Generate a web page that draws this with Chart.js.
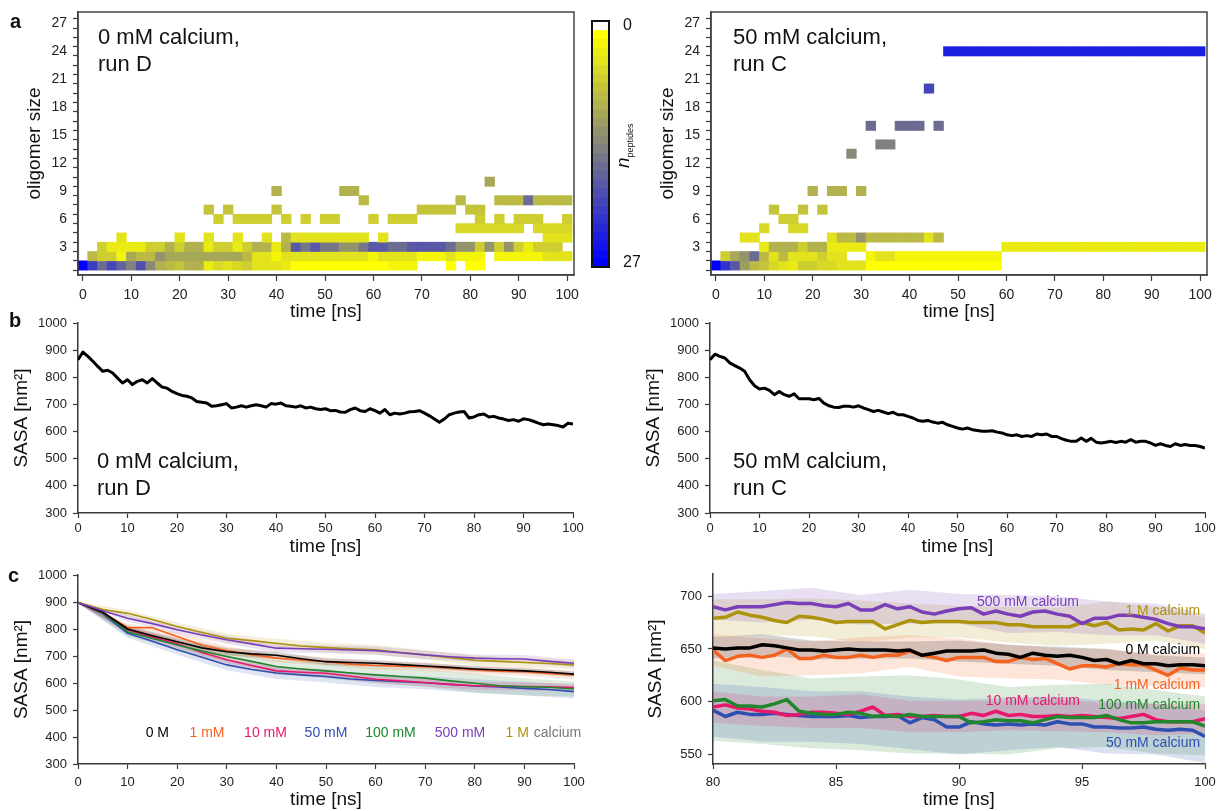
<!DOCTYPE html>
<html>
<head>
<meta charset="utf-8">
<title>Oligomer size and SASA</title>
<script src="https://cdn.jsdelivr.net/npm/chart.js@4.4.1/dist/chart.umd.min.js"></script>
<style>
  html, body { margin:0; padding:0; background:#fff; }
  body { width:1220px; height:811px; position:relative; overflow:hidden; font-family:"Liberation Sans", Arial, Helvetica, sans-serif; color:#111; }
  canvas { position:absolute; }
  .panel { position:absolute; font-weight:bold; font-size:20px; line-height:24px; }
  .note { position:absolute; font-size:22px; line-height:27px; white-space:nowrap; color:#111; }
  .nlab { position:absolute; transform:rotate(-90deg); transform-origin:left top; white-space:nowrap; line-height:22px; color:#111; }
</style>
</head>
<body>
<canvas id="hmD" style="left:0;top:0" width="585" height="326"></canvas>
<canvas id="cbar" style="left:580px;top:10px" width="60" height="270"></canvas>
<canvas id="hmC" style="left:615px;top:0" width="605" height="326"></canvas>
<canvas id="sasaD" style="left:0;top:315px" width="600" height="245"></canvas>
<canvas id="sasaC" style="left:615px;top:315px" width="605" height="245"></canvas>
<canvas id="allL" style="left:0;top:565px" width="600" height="246"></canvas>
<canvas id="allR" style="left:615px;top:565px" width="605" height="246"></canvas>

<div class="panel" style="left:10px;top:9px">a</div>
<div class="panel" style="left:9px;top:308px">b</div>
<div class="panel" style="left:8px;top:563px">c</div>
<div class="note" style="left:98px;top:23px">0 mM calcium,<br>run D</div>
<div class="note" style="left:733px;top:23px">50 mM calcium,<br>run C</div>
<div class="note" style="left:97px;top:447px">0 mM calcium,<br>run D</div>
<div class="note" style="left:733px;top:447px">50 mM calcium,<br>run C</div>
<div class="nlab" style="left:612px;top:168px"><i style="font-size:19px">n</i><sub style="font-size:9px">peptides</sub></div>

<script>
// ---------------- DATA ----------------
// heatmap time bins (ns, bin centres)
const timeBins = [0,2,4,6,8,10,12,14,16,18,20,22,24,26,28,30,32,34,36,38,40,42,44,46,48,50,52,54,56,58,60,62,64,66,68,70,72,74,76,78,80,82,84,86,88,90,92,94,96,98,100];

// n_peptides in oligomers of a given size, 0 mM calcium, run D
const runD_size1  = [27,21,16,20,17,14,19,13,9,8, 7,9,9,3,5,4,5,6,4,4, 4,3,1,1,1,1,1,1,1,1, 1,1,2,2,2,0,0,0,1,0, 1,1,0,0,0,0,0,0,0,0, 0];
const runD_size2  = [0,8,6,6,2,10,8,8,12,10, 10,10,10,10,10,10,10,8,4,4, 2,4,4,4,4,4,4,4,4,4, 2,4,4,4,4,2,2,2,4,2, 2,2,0,2,2,2,2,2,4,4, 4];
const runD_size3  = [0,0,6,3,3,3,3,6,6,9, 6,9,9,3,6,6,3,6,9,9, 3,9,18,15,18,15,15,12,12,15, 18,18,16,16,18,18,18,18,16,12, 12,6,12,6,12,6,3,6,6,6, 0];
const runD_size4  = [0,0,0,0,4,0,0,0,0,0, 4,0,0,4,0,0,4,0,0,4, 0,8,4,4,4,4,4,4,4,4, 0,4,0,0,0,0,0,0,0,0, 0,0,0,0,0,0,0,0,4,4, 4];
const runD_size5  = [0,0,0,0,0,0,0,0,0,0, 0,0,0,0,0,0,0,0,0,0, 0,0,0,0,0,0,0,0,0,0, 0,0,0,0,0,0,0,0,0,5, 5,5,5,5,5,5,0,5,5,5, 5];
const runD_size6  = [0,0,0,0,0,0,0,0,0,0, 0,0,0,0,6,0,6,6,6,6, 0,6,0,6,0,6,6,0,0,0, 6,0,6,6,6,0,0,0,0,0, 0,6,0,6,0,6,6,6,0,0, 6];
const runD_size7  = [0,0,0,0,0,0,0,0,0,0, 0,0,0,7,0,7,0,0,0,0, 7,0,0,0,0,0,0,0,0,0, 0,0,0,0,0,7,7,7,7,0, 7,7,0,0,0,0,0,0,0,0, 0];
const runD_size8  = [0,0,0,0,0,0,0,0,0,0, 0,0,0,0,0,0,0,0,0,0, 0,0,0,0,0,0,0,0,0,8, 0,0,0,0,0,0,0,0,0,8, 0,0,0,8,8,8,16,8,8,8, 8];
const runD_size9  = [0,0,0,0,0,0,0,0,0,0, 0,0,0,0,0,0,0,0,0,0, 9,0,0,0,0,0,0,9,9,0, 0,0,0,0,0,0,0,0,0,0, 0,0,0,0,0,0,0,0,0,0, 0];
const runD_size10 = [0,0,0,0,0,0,0,0,0,0, 0,0,0,0,0,0,0,0,0,0, 0,0,0,0,0,0,0,0,0,0, 0,0,0,0,0,0,0,0,0,0, 0,0,10,0,0,0,0,0,0,0, 0];

// 50 mM calcium, run C
const runC_size1  = [27,22,18,11,8,7,5,4,3,6, 6,5,5,4,4,4,1,1,1,1, 1,1,1,1,1,1,1,1,1,1, 0,0,0,0,0,0,0,0,0,0, 0,0,0,0,0,0,0,0,0,0, 0];
const runC_size2  = [0,6,10,12,16,8,4,8,4,4, 4,6,4,4,0,0,2,4,4,2, 2,2,2,2,2,2,2,2,2,2, 0,0,0,0,0,0,0,0,0,0, 0,0,0,0,0,0,0,0,0,0, 0];
const runC_size3  = [0,0,0,0,0,3,9,9,9,6, 9,9,3,3,3,3,0,0,0,0, 0,0,0,0,0,0,0,0,0,0, 3,3,3,3,3,3,3,3,3,3, 3,3,3,3,3,3,3,3,3,3, 3];
const runC_size4  = [0,0,0,4,4,0,0,0,0,0, 0,0,4,8,8,12,8,8,8,8, 8,8,4,8,0,0,0,0,0,0, 0,0,0,0,0,0,0,0,0,0, 0,0,0,0,0,0,0,0,0,0, 0];
const runC_size5  = [0,0,0,0,0,5,0,0,5,5, 0,0,0,0,0,0,0,0,0,0, 0,0,0,0,0,0,0,0,0,0, 0,0,0,0,0,0,0,0,0,0, 0,0,0,0,0,0,0,0,0,0, 0];
const runC_size6  = [0,0,0,0,0,0,0,6,6,0, 0,0,0,0,0,0,0,0,0,0, 0,0,0,0,0,0,0,0,0,0, 0,0,0,0,0,0,0,0,0,0, 0,0,0,0,0,0,0,0,0,0, 0];
const runC_size7  = [0,0,0,0,0,0,7,0,0,7, 0,7,0,0,0,0,0,0,0,0, 0,0,0,0,0,0,0,0,0,0, 0,0,0,0,0,0,0,0,0,0, 0,0,0,0,0,0,0,0,0,0, 0];
const runC_size9  = [0,0,0,0,0,0,0,0,0,0, 9,0,9,9,0,9,0,0,0,0, 0,0,0,0,0,0,0,0,0,0, 0,0,0,0,0,0,0,0,0,0, 0,0,0,0,0,0,0,0,0,0, 0];
const runC_size13 = [0,0,0,0,0,0,0,0,0,0, 0,0,0,0,13,0,0,0,0,0, 0,0,0,0,0,0,0,0,0,0, 0,0,0,0,0,0,0,0,0,0, 0,0,0,0,0,0,0,0,0,0, 0];
const runC_size14 = [0,0,0,0,0,0,0,0,0,0, 0,0,0,0,0,0,0,14,14,0, 0,0,0,0,0,0,0,0,0,0, 0,0,0,0,0,0,0,0,0,0, 0,0,0,0,0,0,0,0,0,0, 0];
const runC_size16 = [0,0,0,0,0,0,0,0,0,0, 0,0,0,0,0,0,16,0,0,16, 16,16,0,16,0,0,0,0,0,0, 0,0,0,0,0,0,0,0,0,0, 0,0,0,0,0,0,0,0,0,0, 0];
const runC_size20 = [0,0,0,0,0,0,0,0,0,0, 0,0,0,0,0,0,0,0,0,0, 0,0,20,0,0,0,0,0,0,0, 0,0,0,0,0,0,0,0,0,0, 0,0,0,0,0,0,0,0,0,0, 0];
const runC_size24 = [0,0,0,0,0,0,0,0,0,0, 0,0,0,0,0,0,0,0,0,0, 0,0,0,0,24,24,24,24,24,24, 24,24,24,24,24,24,24,24,24,24, 24,24,24,24,24,24,24,24,24,24, 24];

const runD_sizes = [1,2,3,4,5,6,7,8,9,10];
const runD_rows  = [runD_size1,runD_size2,runD_size3,runD_size4,runD_size5,runD_size6,runD_size7,runD_size8,runD_size9,runD_size10];
const runC_sizes = [1,2,3,4,5,6,7,9,13,14,16,20,24];
const runC_rows  = [runC_size1,runC_size2,runC_size3,runC_size4,runC_size5,runC_size6,runC_size7,runC_size9,runC_size13,runC_size14,runC_size16,runC_size20,runC_size24];

// colour-bar levels
const cbarLevels = [0,1,2,3,4,5,6,7,8,9,10,11,12,13,14,15,16,17,18,19,20,21,22,23,24,25,26,27];

// tick labels
const heatXTicks = [0,10,20,30,40,50,60,70,80,90,100];
const sizeTicks  = [1,2,3,4,5,6,7,8,9,10,11,12,13,14,15,16,17,18,19,20,21,22,23,24,25,26,27];
const sasaXTicks = [0,10,20,30,40,50,60,70,80,90,100];
const sasaYTicks = [300,400,500,600,700,800,900,1000];
const zoomXTicks = [80,85,90,95,100];
const zoomYTicks = [550,600,650,700];

// SASA of single runs (panel b), 1 ns steps
const timeB = [0,1,2,3,4,5,6,7,8,9,10,11,12,13,14,15,16,17,18,19,20,21,22,23,24,25,26,27,28,29,30,31,32,33,34,35,36,37,38,39,40,41,42,43,44,45,46,47,48,49,50,51,52,53,54,55,56,57,58,59,60,61,62,63,64,65,66,67,68,69,70,71,72,73,74,75,76,77,78,79,80,81,82,83,84,85,86,87,88,89,90,91,92,93,94,95,96,97,98,99,100];
const sasaRunD = [865,893,877,859,840,822,826,816,797,779, 791,773,785,791,779,795,779,764,760,748, 740,733,730,724,711,708,705,693,695,699, 703,687,690,695,690,695,699,695,690,703, 701,705,695,693,690,695,687,690,684,681, 684,677,678,672,671,681,687,677,674,684, 677,668,681,662,668,665,668,673,674,677, 668,658,646,634,646,662,668,672,674,650, 654,662,665,654,656,650,646,641,644,638, 647,644,638,631,625,628,625,622,617,631, 628];
const sasaRunC = [865,885,877,871,853,843,834,822,791,769, 757,760,752,736,748,736,730,739,721,721, 721,717,722,705,695,690,689,693,693,690, 695,687,681,674,678,672,666,671,662,662, 656,650,641,638,641,635,631,634,625,619, 613,609,613,607,604,601,601,603,598,595, 588,585,588,582,585,582,591,588,591,582, 582,574,568,564,564,576,564,575,561,558, 561,564,560,564,561,570,561,564,564,558, 549,555,549,545,555,549,552,549,549,545, 539];

// panel c: averages for each calcium concentration
const seriesNames  = ['0 M','1 mM','10 mM','50 mM','100 mM','500 mM','1 M'];
const seriesColors = ['#000000','#f4621f','#e8186a','#2f4fb0','#21862c','#7a3fb8','#ad920c'];
const times5 = [0,5,10,15,20,25,30,35,40,45,50,55,60,65,70,75,80,85,90,95,100];
const avg0M    = [898,862,800,775,753,730,716,708,703,690,679,676,673,668,663,658,652,648,645,640,633];
const avg1mM   = [898,862,805,805,772,740,720,705,692,685,679,670,665,662,660,655,648,644,642,635,630];
const avg10mM  = [898,860,797,770,745,713,686,665,645,640,636,625,614,608,602,595,590,588,587,586,583];
const avg50mM  = [898,856,784,755,723,695,667,650,637,630,624,615,609,605,601,595,589,585,580,576,568];
const avg100mM = [898,860,790,765,741,718,698,680,661,652,645,637,630,624,618,608,599,590,586,584,578];
const avg500mM = [898,868,840,820,797,778,760,745,729,727,725,722,720,712,704,697,692,690,689,680,673];
const avg1M    = [898,872,858,835,809,787,766,757,747,737,731,727,723,713,704,694,684,680,676,672,667];
const times10 = [0,10,20,30,40,50,60,70,80,90,100];
const sd0M    = [3,12,14,14,13,12,12,11,10,10,10];
const sd1mM   = [3,14,15,16,15,15,15,15,16,16,15];
const sd10mM  = [3,14,15,15,15,15,15,15,15,15,15];
const sd50mM  = [3,16,18,20,22,22,24,24,25,25,25];
const sd100mM = [3,16,18,22,25,28,30,32,35,32,28];
const sd500mM = [3,12,14,15,15,15,15,15,14,15,14];
const sd1M    = [3,12,15,16,17,18,18,18,18,17,16];

// panel c, right: 80-100 ns, 0.5 ns steps
const timesZoom = [80,80.5,81,81.5,82,82.5,83,83.5,84,84.5,85,85.5,86,86.5,87,87.5,88,88.5,89,89.5,90,90.5,91,91.5,92,92.5,93,93.5,94,94.5,95,95.5,96,96.5,97,97.5,98,98.5,99,99.5,100];
const zoom0M    = [651,650,651,651,654,653,651,649,649,648, 649,650,649,649,649,648,649,644,646,648, 648,648,649,646,645,642,646,644,643,644, 642,639,640,636,639,636,636,634,635,635, 634];
const zoom1mM   = [649,639,643,644,642,644,650,641,641,644, 642,642,644,642,644,644,648,644,642,639, 642,642,642,638,638,642,640,641,636,631, 634,634,633,636,635,635,630,625,632,630, 630];
const zoom10mM  = [595,597,594,593,591,590,587,588,590,590, 589,588,591,595,587,588,586,586,587,586, 586,589,587,591,587,588,586,586,587,586, 587,586,585,584,586,588,583,581,581,581, 584];
const zoom50mM  = [592,586,590,588,588,589,588,587,586,586, 586,587,585,586,586,587,580,585,583,576, 576,581,579,578,579,578,579,578,581,579, 579,576,576,575,575,576,574,573,574,573, 567];
const zoom100mM = [601,602,596,596,595,598,602,591,589,588, 588,590,589,586,587,586,588,586,586,586, 586,580,581,583,582,582,580,583,586,585, 585,585,587,583,580,580,581,581,581,581, 577];
const zoom500mM = [690,687,690,690,690,692,694,693,693,691, 690,693,687,687,692,688,690,685,683,686, 688,689,683,686,683,681,685,686,683,681, 674,679,679,682,682,680,678,674,671,671, 669];
const zoom1M    = [679,680,685,682,680,677,675,681,680,678, 675,676,676,676,669,673,677,675,676,676, 676,675,675,675,673,673,671,671,671,671, 675,672,675,668,669,668,674,667,672,672, 665];
const bandTimesZoom = [80,82,84,86,88,90,92,94,96,98,100];
const zsd0M    = [10,10,9,8,8,10,9,9,10,8,8];
const zsd1mM   = [15,18,16,17,15,18,16,15,17,15,16];
const zsd10mM  = [15,14,15,16,15,15,14,15,14,15,14];
const zsd50mM  = [25,26,24,25,25,26,25,24,25,24,25];
const zsd100mM = [38,35,33,35,37,35,32,30,30,30,28];
const zsd500mM = [12,15,15,14,16,14,18,17,16,15,14];
const zsd1M    = [18,17,18,20,16,15,17,18,20,16,15];

// ---------------- RENDERING ----------------
const FONT = '"Liberation Sans", Arial, Helvetica, sans-serif';
const AX = '#3a3a3a';
Chart.defaults.font.family = FONT;
Chart.defaults.color = '#222';

function cmap(v) {
  if (v <= 0) return '#ffffff';
  const f = (v - 1) / 26;
  const c = Math.round(255 * (1 - f));
  return `rgb(${c},${c},${Math.round(255 * f)})`;
}
function rgba(hex, a) {
  const n = parseInt(hex.slice(1), 16);
  return `rgba(${(n >> 16) & 255},${(n >> 8) & 255},${n & 255},${a})`;
}

const framePlugin = {
  id: 'frame',
  afterDraw(chart, args, o) {
    if (!o || !o.on) return;
    const { ctx, chartArea: a } = chart;
    ctx.save();
    ctx.strokeStyle = o.color; ctx.lineWidth = o.width;
    ctx.strokeRect(a.left, a.top, a.right - a.left, a.bottom - a.top);
    ctx.restore();
  }
};
const textPlugin = {
  id: 'seriesText',
  afterDatasetsDraw(chart, args, o) {
    if (!o || !o.items) return;
    const { ctx, scales: { x, y } } = chart;
    o.items.forEach(it => {
      ctx.save();
      ctx.font = `${o.size}px ${FONT}`;
      ctx.fillStyle = it.color;
      ctx.textAlign = it.align || 'center';
      ctx.textBaseline = 'middle';
      ctx.fillText(it.text, x.getPixelForValue(it.x), y.getPixelForValue(it.y));
      ctx.restore();
    });
  }
};

function xScale(ticksArr, min, max, h, tickSize, tl, pad, titleBottom) {
  return {
    type: 'linear', min, max,
    border: { display: true, color: AX, width: 1.5 },
    grid: { display: true, drawOnChartArea: false, drawTicks: true, tickLength: tl, color: AX, tickWidth: 1.2 },
    ticks: { color: '#222', font: { family: FONT, size: tickSize }, padding: pad, maxRotation: 0, autoSkip: false },
    afterBuildTicks: s => { s.ticks = ticksArr.map(v => ({ value: v })); },
    afterFit: s => { s.height = h; s.paddingLeft = 0; s.paddingRight = 0; },
    title: { display: true, text: 'time [ns]', color: '#111', font: { family: FONT, size: 19 }, padding: { top: 0, bottom: titleBottom } }
  };
}
function yScale(ticksArr, min, max, w, tickSize, title, titleTop, labelFn) {
  return {
    type: 'linear', min, max,
    border: { display: true, color: AX, width: 1.5 },
    grid: { display: true, drawOnChartArea: false, drawTicks: true, tickLength: 5, color: AX, tickWidth: 1.2 },
    ticks: { color: '#222', font: { family: FONT, size: tickSize }, padding: 6, autoSkip: false, callback: labelFn || (v => String(v)) },
    afterBuildTicks: s => { s.ticks = ticksArr.map(v => ({ value: v })); },
    afterFit: s => { s.width = w; s.paddingTop = 0; s.paddingBottom = 0; },
    title: { display: true, text: title, color: '#111', font: { family: FONT, size: 19 }, padding: { top: titleTop, bottom: 0 } }
  };
}
const baseOpts = { responsive: false, animation: false, devicePixelRatio: 1, events: [] };

function heatmap(id, sizes, rows, yWidth, padRight, titleTop) {
  const data = [], colors = [];
  const half = (timeBins[1] - timeBins[0]) / 2;
  rows.forEach((arr, r) => arr.forEach((v, i) => {
    if (v > 0) { data.push({ y: sizes[r], x: [timeBins[i] - half, timeBins[i] + half] }); colors.push(cmap(v)); }
  }));
  return new Chart(document.getElementById(id), {
    type: 'bar',
    data: { datasets: [{ data, backgroundColor: colors, borderWidth: 0, barPercentage: 1, categoryPercentage: 1 }] },
    options: Object.assign({}, baseOpts, {
      indexAxis: 'y',
      layout: { padding: { top: 12, right: padRight, left: 0, bottom: 0 } },
      scales: {
        x: xScale(heatXTicks, -1, 101.4, 51, 14, 6, 6, 3),
        y: yScale(sizeTicks, 0.5, 27.7, yWidth, 14, 'oligomer size', titleTop, v => (v % 3 === 0 ? String(v) : ''))
      },
      plugins: { legend: { display: false }, tooltip: { enabled: false }, frame: { on: true, color: '#444', width: 1.5 } }
    }),
    plugins: [framePlugin]
  });
}

heatmap('hmD', runD_sizes, runD_rows, 78, 11, 23);
heatmap('hmC', runC_sizes, runC_rows, 96, 13, 41);

// colour bar
new Chart(document.getElementById('cbar'), {
  type: 'bar',
  data: { labels: [''], datasets: cbarLevels.map(v => ({ data: [1], backgroundColor: cmap(v), borderWidth: 0, barPercentage: 1, categoryPercentage: 1 })) },
  options: Object.assign({}, baseOpts, {
    layout: { padding: { top: 11, left: 12, right: 0, bottom: 13 } },
    scales: {
      x: { stacked: true, display: false },
      y: {
        stacked: true, min: 0, max: 28, reverse: true, position: 'right',
        grid: { display: false }, border: { display: false },
        ticks: { color: '#111', font: { family: FONT, size: 16 }, padding: 6, callback: v => (v < 1 ? String(cbarLevels[0]) : String(cbarLevels[cbarLevels.length - 1])) },
        afterBuildTicks: s => { s.ticks = [{ value: 0.5 }, { value: 27.5 }]; },
        afterFit: s => { s.width = 31; s.paddingTop = 0; s.paddingBottom = 0; }
      }
    },
    plugins: { legend: { display: false }, tooltip: { enabled: false }, frame: { on: true, color: '#111', width: 2 } }
  }),
  plugins: [framePlugin]
});

// panel b
function sasaRun(id, values, yWidth, padRight, titleTop) {
  return new Chart(document.getElementById(id), {
    type: 'line',
    data: { datasets: [{ data: timeB.map((t, i) => ({ x: t, y: values[i] })), borderColor: '#000', borderWidth: 3, pointRadius: 0, tension: 0, borderJoinStyle: 'round', fill: false }] },
    options: Object.assign({}, baseOpts, {
      layout: { padding: { top: 8, right: padRight, left: 0, bottom: 0 } },
      scales: {
        x: xScale(sasaXTicks, 0, 100, 47, 13, 5, 3, 2),
        y: yScale(sasaYTicks, 300, 1000, yWidth, 13, 'SASA [nm²]', titleTop)
      },
      plugins: { legend: { display: false }, tooltip: { enabled: false } }
    })
  });
}
sasaRun('sasaD', sasaRunD, 78, 27, 10);
sasaRun('sasaC', sasaRunC, 95, 15, 27);

// panel c
const avgSeries = [avg0M, avg1mM, avg10mM, avg50mM, avg100mM, avg500mM, avg1M];
const sdSeries = [sd0M, sd1mM, sd10mM, sd50mM, sd100mM, sd500mM, sd1M];
const zoomSeries = [zoom0M, zoom1mM, zoom10mM, zoom50mM, zoom100mM, zoom500mM, zoom1M];
const zsdSeries = [zsd0M, zsd1mM, zsd10mM, zsd50mM, zsd100mM, zsd500mM, zsd1M];

function buildDatasets(times, series, bandTimes, spreads, lineW, bandAlpha) {
  const ds = [];
  const step = Math.round((bandTimes[1] - bandTimes[0]) / (times[1] - times[0]));
  series.forEach((vals, s) => {
    const col = seriesColors[s];
    const upIdx = ds.length;
    ds.push({ data: bandTimes.map((t, k) => ({ x: t, y: vals[k * step] + spreads[s][k] })), borderWidth: 0, pointRadius: 0, backgroundColor: rgba(col, bandAlpha), fill: upIdx + 1, order: 2 });
    ds.push({ data: bandTimes.map((t, k) => ({ x: t, y: vals[k * step] - spreads[s][k] })), borderWidth: 0, pointRadius: 0, fill: false, order: 2 });
  });
  const lineOrder = [5, 6, 0, 1, 4, 2, 3];
  lineOrder.forEach(s => {
    ds.push({ data: times.map((t, i) => ({ x: t, y: series[s][i] })), borderColor: seriesColors[s], borderWidth: lineW, pointRadius: 0, tension: 0, borderJoinStyle: 'round', fill: false, order: 1 });
  });
  return ds;
}

const legendPosL = [16, 26, 37.8, 50, 63, 77, 90.9];
const legendAlignL = ['center', 'center', 'center', 'center', 'center', 'center', 'right'];
new Chart(document.getElementById('allL'), {
  type: 'line',
  data: { datasets: buildDatasets(times5, avgSeries, times10, sdSeries, 1.6, 0.15) },
  options: Object.assign({}, baseOpts, {
    layout: { padding: { top: 10, right: 26, left: 0, bottom: 0 } },
    scales: {
      x: xScale(sasaXTicks, 0, 100, 47, 13, 5, 6, 0),
      y: yScale(sasaYTicks, 300, 1000, 78, 13, 'SASA [nm²]', 10)
    },
    plugins: {
      legend: { display: false }, tooltip: { enabled: false },
      seriesText: {
        size: 14,
        items: seriesNames.map((n, s) => ({ text: n, color: seriesColors[s], x: legendPosL[s], y: 415, align: legendAlignL[s] }))
          .concat([{ text: 'calcium', color: '#777', x: 91.9, y: 415, align: 'left' }])
      }
    }
  }),
  plugins: [textPlugin]
});

const zoomLabelPos = [
  { x: 99.8, y: 649, align: 'right' },
  { x: 99.8, y: 616, align: 'right' },
  { x: 93, y: 601, align: 'center' },
  { x: 99.8, y: 561, align: 'right' },
  { x: 99.8, y: 597, align: 'right' },
  { x: 92.8, y: 694, align: 'center' },
  { x: 99.8, y: 686, align: 'right' }
];
new Chart(document.getElementById('allR'), {
  type: 'line',
  data: { datasets: buildDatasets(timesZoom, zoomSeries, bandTimesZoom, zsdSeries, 3.5, 0.17) },
  options: Object.assign({}, baseOpts, {
    layout: { padding: { top: 9, right: 15, left: 0, bottom: 0 } },
    scales: {
      x: xScale(zoomXTicks, 80, 100, 47, 13, 5, 6, 0),
      y: yScale(zoomYTicks, 541, 721, 98, 13, 'SASA [nm²]', 29)
    },
    plugins: {
      legend: { display: false }, tooltip: { enabled: false },
      seriesText: {
        size: 14,
        items: seriesNames.map((n, s) => Object.assign({ text: n + ' calcium', color: seriesColors[s] }, zoomLabelPos[s]))
      }
    }
  }),
  plugins: [textPlugin]
});
</script>
</body>
</html>
